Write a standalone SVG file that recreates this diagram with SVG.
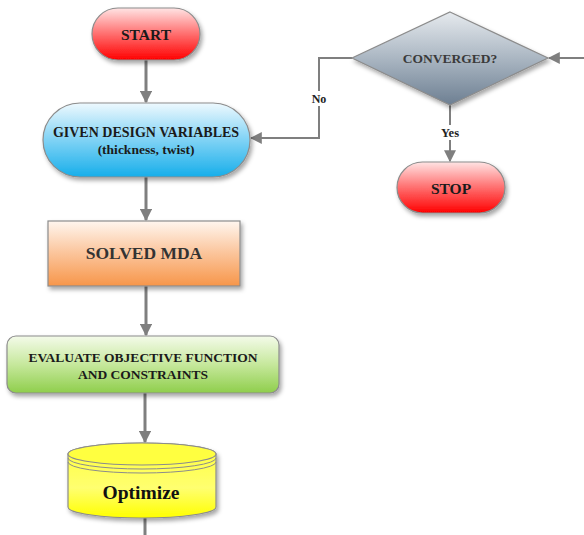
<svg xmlns="http://www.w3.org/2000/svg" width="584" height="535" viewBox="0 0 584 535">
<defs>
<linearGradient id="gRed" x1="0" y1="0" x2="0" y2="1"><stop offset="0" stop-color="#ffe4e4"/><stop offset="0.45" stop-color="#ff7a7a"/><stop offset="1" stop-color="#ff0000"/></linearGradient>
<linearGradient id="gBlue" x1="0" y1="0" x2="0" y2="1"><stop offset="0" stop-color="#eef9fe"/><stop offset="0.45" stop-color="#8ad6f6"/><stop offset="1" stop-color="#17aeea"/></linearGradient>
<linearGradient id="gOrange" x1="0" y1="0" x2="0" y2="1"><stop offset="0" stop-color="#fff6ef"/><stop offset="0.5" stop-color="#fbc49a"/><stop offset="1" stop-color="#f7964a"/></linearGradient>
<linearGradient id="gGreen" x1="0" y1="0" x2="0" y2="1"><stop offset="0" stop-color="#f4fbea"/><stop offset="0.5" stop-color="#c6e89c"/><stop offset="1" stop-color="#8fce4c"/></linearGradient>
<linearGradient id="gYellow" x1="0" y1="0" x2="0" y2="1"><stop offset="0" stop-color="#ffff3a"/><stop offset="0.6" stop-color="#ffff70"/><stop offset="1" stop-color="#ffff00"/></linearGradient>
<linearGradient id="gGray" x1="0" y1="0" x2="0" y2="1"><stop offset="0" stop-color="#e6eaee"/><stop offset="0.5" stop-color="#aab6c2"/><stop offset="1" stop-color="#6d7f92"/></linearGradient>
<filter id="sh" x="-10%" y="-10%" width="125%" height="135%"><feDropShadow dx="2" dy="3" stdDeviation="2" flood-color="#000" flood-opacity="0.35"/></filter>
<marker id="arr" viewBox="0 0 10 10" refX="9" refY="5" markerWidth="4.2" markerHeight="4.2" orient="auto" markerUnits="strokeWidth"><path d="M0,0 L10,5 L0,10 z" fill="#7f7f7f"/></marker>
<marker id="arr2" viewBox="0 0 10 10" refX="9" refY="5" markerWidth="6" markerHeight="6" orient="auto" markerUnits="strokeWidth"><path d="M0,0 L10,5 L0,10 z" fill="#7f7f7f"/></marker>
</defs>
<style>
text{font-family:'Liberation Serif','Times New Roman',Tinos,serif;font-weight:bold;text-anchor:middle}
.c{fill:none;stroke:#7f7f7f;stroke-width:3}
.c2{fill:none;stroke:#7f7f7f;stroke-width:2}
.n{stroke:#8c8c8c;stroke-width:1.2}
</style>
<g id="connectors">
<line class="c" x1="146" y1="60" x2="146" y2="102" marker-end="url(#arr)"/>
<line class="c" x1="146" y1="177" x2="146" y2="220" marker-end="url(#arr)"/>
<line class="c" x1="146" y1="286" x2="146" y2="335" marker-end="url(#arr)"/>
<line class="c" x1="145" y1="393" x2="145" y2="442" marker-end="url(#arr)"/>
<line class="c" x1="145" y1="518" x2="145" y2="535"/>
<line class="c2" x1="584" y1="58" x2="549" y2="58" marker-end="url(#arr2)"/>
<polyline class="c2" points="352,58 319,58 319,138 251,138" marker-end="url(#arr2)"/>
<line class="c2" x1="450" y1="105" x2="450" y2="161" marker-end="url(#arr2)"/>
<rect x="306" y="91" width="26" height="15" fill="#fff"/>
<text x="319" y="103" font-size="12" fill="#222">No</text>
<rect x="436" y="125" width="28" height="15" fill="#fff"/>
<text x="450" y="137" font-size="12.5" fill="#222">Yes</text>
</g>
<g id="start">
<rect class="n" x="92" y="8" width="108" height="52" rx="26" fill="url(#gRed)" filter="url(#sh)"/>
<text x="146" y="40" font-size="15.5" fill="#1a1a1a">START</text>
</g>
<g id="given">
<rect class="n" x="43" y="103" width="207" height="74" rx="37" fill="url(#gBlue)" filter="url(#sh)"/>
<text x="146" y="137" font-size="14" fill="#1a1a1a">GIVEN DESIGN VARIABLES</text>
<text x="146" y="154" font-size="13.5" fill="#1a1a1a">(thickness, twist)</text>
</g>
<g id="solved">
<rect class="n" x="48" y="221" width="192" height="65" fill="url(#gOrange)" filter="url(#sh)"/>
<text x="144" y="259" font-size="17.5" fill="#333">SOLVED MDA</text>
</g>
<g id="evaluate">
<rect class="n" x="7" y="336" width="272" height="57" rx="9" fill="url(#gGreen)" filter="url(#sh)"/>
<text x="143" y="362" font-size="13.5" fill="#1a1a1a">EVALUATE OBJECTIVE FUNCTION</text>
<text x="143" y="379" font-size="13.5" fill="#1a1a1a">AND CONSTRAINTS</text>
</g>
<g id="optimize">
<path class="n" d="M68,454 L68,507 A74,11 0 0 0 216,507 L216,454 A74,11 0 0 0 68,454 Z" fill="url(#gYellow)" filter="url(#sh)"/>
<ellipse class="n" cx="142" cy="454" rx="74" ry="11" fill="#ffff40"/>
<path d="M68,458 A74,11 0 0 0 216,458" fill="none" stroke="#8c8c8c" stroke-width="1"/>
<path d="M68,462 A74,11 0 0 0 216,462" fill="none" stroke="#8c8c8c" stroke-width="1"/>
<text x="141" y="499" font-size="19.5" fill="#111">Optimize</text>
</g>
<g id="converged">
<polygon class="n" points="450,12 548,58 450,105 352,58" fill="url(#gGray)" filter="url(#sh)"/>
<text x="450" y="63" font-size="13.5" fill="#3a3a3a">CONVERGED?</text>
</g>
<g id="stop">
<rect class="n" x="397" y="162" width="108" height="51" rx="25.5" fill="url(#gRed)" filter="url(#sh)"/>
<text x="451" y="194" font-size="15.5" fill="#1a1a1a">STOP</text>
</g>
</svg>
